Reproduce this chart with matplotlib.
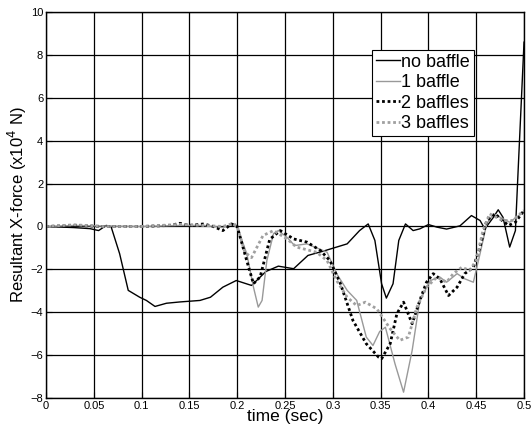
import matplotlib
matplotlib.use('Agg')
import matplotlib.pyplot as plt

plt.rcParams['font.family'] = ['Liberation Sans', 'DejaVu Sans']

# no baffle
t0 = [0, 0.029, 0.046, 0.055, 0.063, 0.068, 0.077, 0.086, 0.098, 0.105, 0.114, 0.126,
      0.140, 0.161, 0.172, 0.185, 0.199, 0.215, 0.230, 0.243, 0.259, 0.274, 0.290,
      0.315, 0.328, 0.337, 0.344, 0.351, 0.356, 0.363, 0.369, 0.376, 0.384, 0.391,
      0.400, 0.409, 0.419, 0.433, 0.445, 0.454, 0.459, 0.468, 0.473, 0.478, 0.485,
      0.491, 0.494, 0.498, 0.5]
f0 = [0, -0.05, -0.1, -0.19, 0.05, 0, -1.27, -2.98, -3.3, -3.45, -3.73, -3.58,
      -3.52, -3.45, -3.3, -2.83, -2.52, -2.75, -2.1, -1.85, -1.97, -1.35, -1.15,
      -0.81, -0.19, 0.12, -0.65, -2.67, -3.34, -2.67, -0.65, 0.12, -0.19, -0.11,
      0.09, -0.03, -0.12, 0.03, 0.51, 0.28, -0.11, 0.43, 0.78, 0.43, -0.96,
      -0.19, 2.77, 6.65, 8.6]

# 1 baffle
t1 = [0, 0.03, 0.06, 0.1, 0.14, 0.165, 0.185, 0.195, 0.2, 0.21, 0.217, 0.222, 0.226,
      0.231, 0.238, 0.243, 0.252, 0.260, 0.273, 0.294, 0.304, 0.315, 0.325, 0.335,
      0.342, 0.349, 0.355, 0.365, 0.374, 0.383, 0.391, 0.402, 0.412, 0.419, 0.43,
      0.438, 0.447, 0.454, 0.461, 0.468, 0.475, 0.485, 0.5]
f1 = [0, 0.05, 0.02, 0, 0.05, 0.05, -0.05, 0.1, -0.05, -1.27, -2.83, -3.76, -3.45,
      -1.59, -0.33, -0.19, -0.5, -0.89, -0.81, -1.2, -2.2, -2.98, -3.45, -5.16,
      -5.55, -4.9, -4.7, -6.4, -7.73, -5.78, -3.45, -2.52, -2.36, -2.6, -2.2,
      -2.44, -2.6, -1.27, 0.12, 0.59, 0.43, 0.2, 0.7]

# 2 baffles
t2 = [0, 0.03, 0.06, 0.1, 0.13, 0.14, 0.15, 0.165, 0.175, 0.185, 0.194, 0.2, 0.21,
      0.217, 0.224, 0.234, 0.245, 0.259, 0.273, 0.287, 0.297, 0.308, 0.321, 0.335,
      0.348, 0.351, 0.36, 0.367, 0.374, 0.383, 0.391, 0.398, 0.405, 0.412, 0.421,
      0.43, 0.438, 0.447, 0.454, 0.461, 0.47, 0.477, 0.484, 0.491, 0.5]
f2 = [0, 0.05, 0, 0, 0.05, 0.15, 0.05, 0.12, 0.0, -0.19, 0.12, 0, -1.6,
      -2.67, -2.35, -0.6, -0.19, -0.58, -0.73, -1.12, -1.59, -2.67, -4.38, -5.47,
      -6.1, -6.17, -5.47, -4.07, -3.53, -4.54, -3.45, -2.6, -2.2, -2.44, -3.22,
      -2.83, -2.2, -1.9, -0.96, 0.28, 0.59, 0.28, 0.05, 0.2, 0.75]

# 3 baffles
t3 = [0, 0.03, 0.06, 0.1, 0.14, 0.165, 0.185, 0.196, 0.2, 0.208, 0.215, 0.227,
      0.238, 0.252, 0.262, 0.283, 0.294, 0.304, 0.315, 0.325, 0.334, 0.346, 0.36,
      0.37, 0.379, 0.388, 0.398, 0.409, 0.419, 0.426, 0.435, 0.443, 0.45, 0.457,
      0.464, 0.471, 0.478, 0.488, 0.5]
f3 = [0, 0.08, 0, 0, 0.1, 0.05, 0.0, 0.15, 0, -1.2, -1.45, -0.42,
      -0.19, -0.58, -0.96, -1.2, -1.59, -2.52, -3.3, -3.69, -3.53, -3.84, -4.77,
      -5.31, -5.16, -3.76, -2.83, -2.36, -2.6, -2.2, -1.9, -2.05, -1.59, -0.19,
      0.59, 0.43, 0.28, 0.28, 0.75]

fig = plt.figure(figsize=(5.32, 4.34), dpi=100)
ax = fig.add_axes([0.0865, 0.083, 0.8985, 0.889])

ax.plot(t0, f0, color='black', lw=1.0, label='no baffle')
ax.plot(t1, f1, color='#999999', lw=1.0, label='1 baffle')
ax.plot(t2, f2, color='black', lw=2.0, ls=(0, (1, 1)), label='2 baffles')
ax.plot(t3, f3, color='#a0a0a0', lw=2.0, ls=(0, (1, 1)), label='3 baffles')

ax.set_xlim(0, 0.5)
ax.set_ylim(-8, 10)
ax.set_xticks([0, 0.05, 0.1, 0.15, 0.2, 0.25, 0.3, 0.35, 0.4, 0.45, 0.5])
ax.set_xticklabels(['0', '0.05', '0.1', '0.15', '0.2', '0.25', '0.3', '0.35',
                    '0.4', '0.45', '0.5'])
ax.set_yticks(range(-8, 11, 2))
ax.tick_params(direction='in', labelsize=8, length=4, pad=2)
ax.grid(True, color='black', lw=0.9)
ax.set_axisbelow(True)
for s in ax.spines.values():
    s.set_linewidth(1.0)

ax.set_xlabel('time (sec)', fontsize=12.5, labelpad=-1)
ax.set_ylabel('Resultant X-force (x10$^4$ N)', fontsize=12, labelpad=1)

leg = ax.legend(loc='upper left', bbox_to_anchor=(0.683, 0.902), fontsize=13,
                fancybox=False, framealpha=1, edgecolor='black',
                handlelength=1.3, handletextpad=0.1, borderpad=0.2,
                labelspacing=0.2, borderaxespad=0)
leg.get_frame().set_linewidth(0.8)

fig.savefig('out.png', dpi=100)
